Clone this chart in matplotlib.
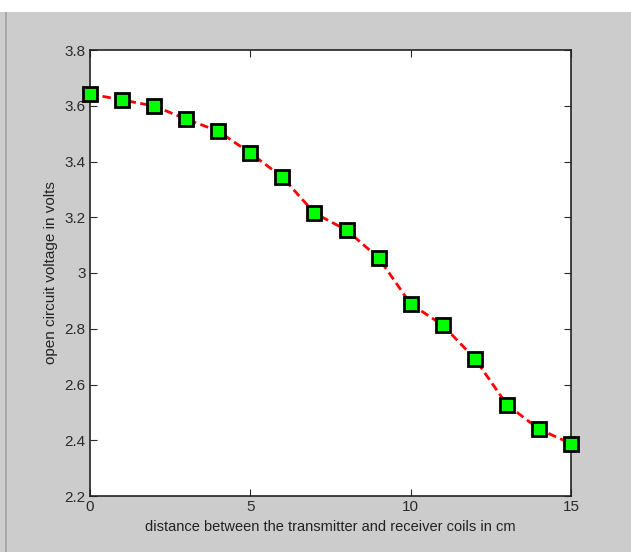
import matplotlib
matplotlib.use('Agg')
import matplotlib.pyplot as plt
from matplotlib.patches import Rectangle

# Datos
distance = [0, 1, 2, 3, 4, 5, 6, 7, 8, 9, 10, 11, 12, 13, 14, 15]
voltage = [3.642, 3.621, 3.599, 3.552, 3.509, 3.430, 3.344, 3.215,
           3.154, 3.054, 2.889, 2.813, 2.693, 2.528, 2.440, 2.388]
xticks = [0, 5, 10, 15]
yticks = [2.2, 2.4, 2.6, 2.8, 3.0, 3.2, 3.4, 3.6, 3.8]
ytick_labels = ['2.2', '2.4', '2.6', '2.8', '3', '3.2', '3.4', '3.6', '3.8']

plt.rcParams['font.family'] = ['Liberation Sans', 'DejaVu Sans']

fig = plt.figure(figsize=(6.31, 5.52), dpi=100, facecolor='#cccccc')
# franja blanca arriba y borde izquierdo de la ventana
fig.patches.append(Rectangle((0, 1 - 12 / 552), 1, 12 / 552, transform=fig.transFigure,
                             facecolor='white', edgecolor='none', zorder=0))
fig.patches.append(Rectangle((5 / 631, 0), 2 / 631, 1 - 12 / 552, transform=fig.transFigure,
                             facecolor='#a8a8a8', edgecolor='none', zorder=0))

ax = fig.add_axes([90 / 631, 1 - 496 / 552, 481 / 631, 446 / 552])
ax.set_facecolor('white')

ax.plot(distance, voltage, color='red', linewidth=2, dashes=(3, 1.6),
        marker='s', markersize=10, markerfacecolor='#00ff00',
        markeredgecolor='black', markeredgewidth=2, clip_on=False, zorder=3)

ax.set_xlim(0, 15)
ax.set_ylim(2.2, 3.8)
ax.set_xticks(xticks)
ax.set_xticklabels([str(t) for t in xticks])
ax.set_yticks(yticks)
ax.set_yticklabels(ytick_labels)
ax.tick_params(direction='in', length=5, top=True, right=True,
               labelsize=11, colors='#2a2a2a', pad=3)
for s in ax.spines.values():
    s.set_linewidth(1.2)
    s.set_color('#222222')

ax.set_xlabel('distance between the transmitter and receiver coils in cm', fontsize=10.5,
              labelpad=4, color='#222222')
ax.set_ylabel('open circuit voltage in volts', fontsize=11, labelpad=5, color='#222222')

fig.savefig('out.png', dpi=100, facecolor=fig.get_facecolor())
